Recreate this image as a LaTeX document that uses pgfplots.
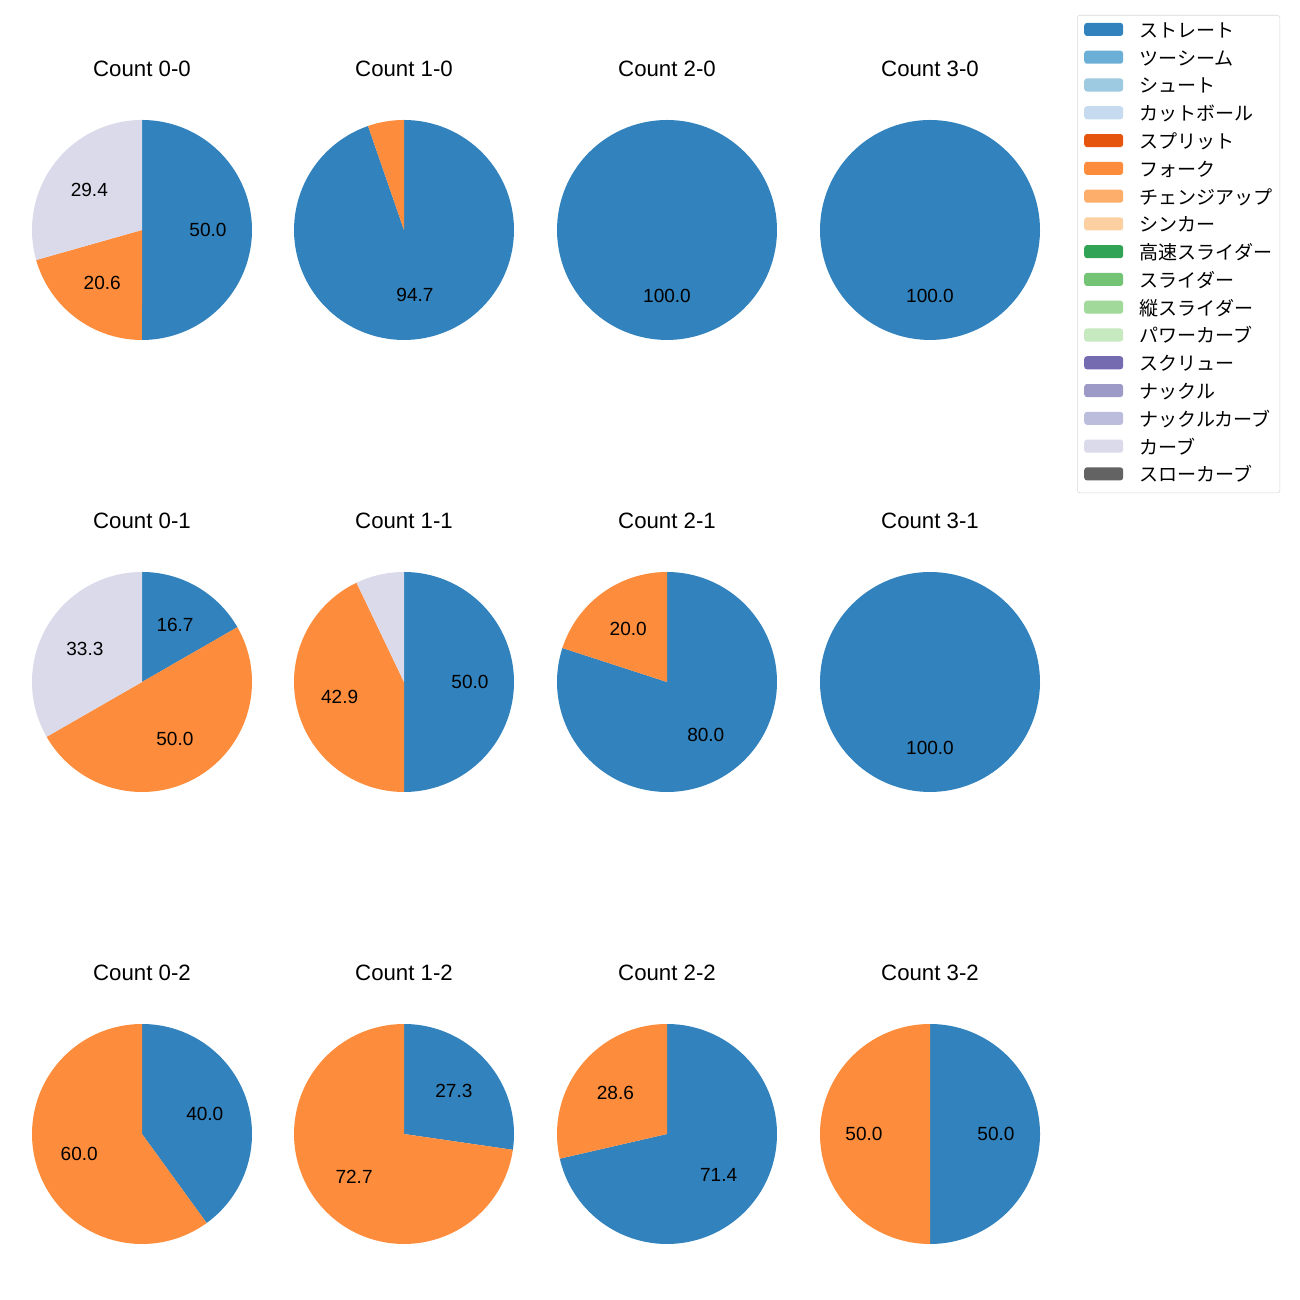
\documentclass[border=0pt]{standalone}
\usepackage{pgfplots}
\pgfplotsset{compat=1.18}
\usepackage{fontspec}
\setmainfont{Liberation Sans}
\newfontfamily\jp{Noto Sans CJK JP}
\definecolor{c1}{HTML}{3182BD}
\definecolor{c2}{HTML}{6BAED6}
\definecolor{c3}{HTML}{9ECAE1}
\definecolor{c4}{HTML}{C6DBEF}
\definecolor{c5}{HTML}{E6550D}
\definecolor{c6}{HTML}{FD8D3C}
\definecolor{c7}{HTML}{FDAE6B}
\definecolor{c8}{HTML}{FDD0A2}
\definecolor{c9}{HTML}{31A354}
\definecolor{c10}{HTML}{74C476}
\definecolor{c11}{HTML}{A1D99B}
\definecolor{c12}{HTML}{C7E9C0}
\definecolor{c13}{HTML}{756BB1}
\definecolor{c14}{HTML}{9E9AC8}
\definecolor{c15}{HTML}{BCBDDC}
\definecolor{c16}{HTML}{DADAEB}
\definecolor{c17}{HTML}{636363}
\newcommand\labelfont{\fontsize{13.7}{16}\selectfont}
\newcommand\titlefont{\fontsize{16}{19}\selectfont}
\newcommand\legfont{\jp\fontsize{13.7}{16}\selectfont}
% #1 colour, #2 start (percent), #3 share (percent), #4 show label (1/0)
\newcommand{\slice}[4]{%
  \pgfmathsetmacro\angA{90-3.6*(#2+#3)}%
  \pgfmathsetmacro\angB{90-3.6*#2}%
  \pgfmathsetmacro\angM{90-3.6*(#2+#3/2)}%
  \pgfmathsetmacro\lx{0.6*cos(\angM)}%
  \pgfmathsetmacro\ly{0.6*sin(\angM)}%
  \edef\tmp{\noexpand\addplot[fill=#1, draw=none, domain=\angA:\angB, samples=120, forget plot] ({cos(x)},{sin(x)}) -- (axis cs:0,0) -- cycle;}%
  \tmp
  \ifnum#4=1
    \edef\tmp{\noexpand\node[font=\noexpand\labelfont] at (axis cs:\lx,\ly) {#3};}\tmp
  \fi
}
\pgfplotsset{pie/.style={hide axis, scale only axis, width=158.4pt, height=158.4pt,
  xmin=-1, xmax=1, ymin=-1, ymax=1, anchor=center, clip=false}}
\newcommand{\pietitle}[1]{\node[font=\titlefont] at (axis cs:0,1.464) {#1};}
\begin{document}
\begin{tikzpicture}
\path (0pt,0pt) rectangle (936pt,936pt);
% Row 1
\begin{axis}[pie, at={(102.24pt,770.4pt)}]
\slice{c1}{0}{50.0}{1}
\slice{c6}{50.0}{20.6}{1}
\slice{c16}{70.6}{29.4}{1}
\pietitle{Count 0-0}
\end{axis}
\begin{axis}[pie, at={(290.88pt,770.4pt)}]
\slice{c1}{0}{94.7}{1}
\slice{c6}{94.7}{5.3}{0}
\pietitle{Count 1-0}
\end{axis}
\begin{axis}[pie, at={(480.24pt,770.4pt)}]
\slice{c1}{0}{100.0}{1}
\pietitle{Count 2-0}
\end{axis}
\begin{axis}[pie, at={(669.6pt,770.4pt)}]
\slice{c1}{0}{100.0}{1}
\pietitle{Count 3-0}
\end{axis}
% Row 2
\begin{axis}[pie, at={(102.24pt,444.96pt)}]
\slice{c1}{0}{16.7}{1}
\slice{c6}{16.7}{50.0}{1}
\slice{c16}{66.7}{33.3}{1}
\pietitle{Count 0-1}
\end{axis}
\begin{axis}[pie, at={(290.88pt,444.96pt)}]
\slice{c1}{0}{50.0}{1}
\slice{c6}{50.0}{42.9}{1}
\slice{c16}{92.9}{7.1}{0}
\pietitle{Count 1-1}
\end{axis}
\begin{axis}[pie, at={(480.24pt,444.96pt)}]
\slice{c1}{0}{80.0}{1}
\slice{c6}{80.0}{20.0}{1}
\pietitle{Count 2-1}
\end{axis}
\begin{axis}[pie, at={(669.6pt,444.96pt)}]
\slice{c1}{0}{100.0}{1}
\pietitle{Count 3-1}
\end{axis}
% Row 3
\begin{axis}[pie, at={(102.24pt,119.52pt)}]
\slice{c1}{0}{40.0}{1}
\slice{c6}{40.0}{60.0}{1}
\pietitle{Count 0-2}
\end{axis}
\begin{axis}[pie, at={(290.88pt,119.52pt)}]
\slice{c1}{0}{27.3}{1}
\slice{c6}{27.3}{72.7}{1}
\pietitle{Count 1-2}
\end{axis}
\begin{axis}[pie, at={(480.24pt,119.52pt)}]
\slice{c1}{0}{71.4}{1}
\slice{c6}{71.4}{28.6}{1}
\pietitle{Count 2-2}
\end{axis}
\begin{axis}[pie, at={(669.6pt,119.52pt)}]
\slice{c1}{0}{50.0}{1}
\slice{c6}{50.0}{50.0}{1}
\pietitle{Count 3-2}
\end{axis}
% Legend
\begin{axis}[hide axis, scale only axis, width=10pt, height=10pt,
  at={(775.44pt,925.2pt)}, anchor=north west,
  xmin=0, xmax=1, ymin=0, ymax=1,
  legend cell align=left,
  legend image code/.code={\fill (0pt,-2.0pt) rectangle (28pt,7.4pt);},
  legend style={at={(0,1)}, anchor=north west, draw=black!15, rounded corners=2pt,
    fill=white, font=\legfont, row sep=7.1pt, inner xsep=5pt, inner ysep=5.5pt,
    nodes={inner sep=0pt, text height=8.5pt, text depth=2.5pt},
    /tikz/every odd column/.style={column sep=12pt}}]
\addlegendimage{draw=none, fill=c1}\addlegendentry{ストレート}
\addlegendimage{draw=none, fill=c2}\addlegendentry{ツーシーム}
\addlegendimage{draw=none, fill=c3}\addlegendentry{シュート}
\addlegendimage{draw=none, fill=c4}\addlegendentry{カットボール}
\addlegendimage{draw=none, fill=c5}\addlegendentry{スプリット}
\addlegendimage{draw=none, fill=c6}\addlegendentry{フォーク}
\addlegendimage{draw=none, fill=c7}\addlegendentry{チェンジアップ}
\addlegendimage{draw=none, fill=c8}\addlegendentry{シンカー}
\addlegendimage{draw=none, fill=c9}\addlegendentry{高速スライダー}
\addlegendimage{draw=none, fill=c10}\addlegendentry{スライダー}
\addlegendimage{draw=none, fill=c11}\addlegendentry{縦スライダー}
\addlegendimage{draw=none, fill=c12}\addlegendentry{パワーカーブ}
\addlegendimage{draw=none, fill=c13}\addlegendentry{スクリュー}
\addlegendimage{draw=none, fill=c14}\addlegendentry{ナックル}
\addlegendimage{draw=none, fill=c15}\addlegendentry{ナックルカーブ}
\addlegendimage{draw=none, fill=c16}\addlegendentry{カーブ}
\addlegendimage{draw=none, fill=c17}\addlegendentry{スローカーブ}
\end{axis}
\end{tikzpicture}
\end{document}
